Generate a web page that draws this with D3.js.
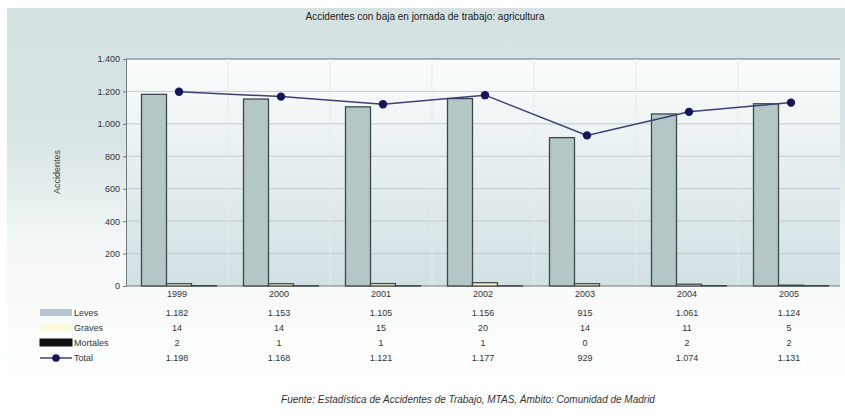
<!DOCTYPE html>
<html>
<head>
<meta charset="utf-8">
<script src="https://cdn.jsdelivr.net/npm/d3@7"></script>
<style>
  html, body { margin: 0; padding: 0; background: #fff; }
  svg { display: block; font-family: "Liberation Sans", Arial, sans-serif; }
</style>
</head>
<body>
<svg id="chart" width="845" height="420"></svg>
<script>
// Accidentes con baja en jornada de trabajo: agricultura (Comunidad de Madrid)
const years    = ["1999", "2000", "2001", "2002", "2003", "2004", "2005"];
const leves    = [1182, 1153, 1105, 1156, 915, 1061, 1124];
const graves   = [14, 14, 15, 20, 14, 11, 5];
const mortales = [2, 1, 1, 1, 0, 2, 2];
const total    = [1198, 1168, 1121, 1177, 929, 1074, 1131];
const yTicks   = [0, 200, 400, 600, 800, 1000, 1200, 1400];
const seriesNames = ["Leves", "Graves", "Mortales", "Total"];

const svg = d3.select("#chart");
const defs = svg.append("defs");

const fmt = v => {
  const s = String(v);
  return s.length > 3 ? s.slice(0, s.length - 3) + "." + s.slice(-3) : s;
};

// outer background gradient
const bg = defs.append("linearGradient").attr("id", "bg").attr("x1", 0).attr("y1", 0).attr("x2", 0).attr("y2", 1);
bg.append("stop").attr("offset", "0%").attr("stop-color", "#d3e1e1");
bg.append("stop").attr("offset", "35%").attr("stop-color", "#d9e5e5");
bg.append("stop").attr("offset", "65%").attr("stop-color", "#f6f9f9");
bg.append("stop").attr("offset", "100%").attr("stop-color", "#ffffff");
svg.append("rect").attr("x", 7).attr("y", 8).attr("width", 838).attr("height", 380).attr("fill", "url(#bg)");

// plot area gradient
const pg = defs.append("linearGradient").attr("id", "pg").attr("x1", 0).attr("y1", 0).attr("x2", 0).attr("y2", 1);
pg.append("stop").attr("offset", "0%").attr("stop-color", "#fbfdfd");
pg.append("stop").attr("offset", "45%").attr("stop-color", "#e7eff0");
pg.append("stop").attr("offset", "100%").attr("stop-color", "#d2e0e4");

const m = { left: 126, right: 840, top: 59, bottom: 286 };

const x = d3.scaleBand().domain(years).range([m.left, m.right]).paddingInner(0).paddingOuter(0);
const y = d3.scaleLinear().domain([0, 1400]).range([m.bottom, m.top]);

const groupW = 75;
const barSeries = ["leves", "graves", "mortales"];
const xs = d3.scaleBand().domain(barSeries).range([0, groupW]);
const groupStart = yr => x(yr) + x.bandwidth() / 2 - groupW / 2 + 2;

svg.append("rect").attr("x", m.left).attr("y", m.top)
  .attr("width", m.right - m.left).attr("height", m.bottom - m.top)
  .attr("fill", "url(#pg)");

// grid lines
svg.append("g").selectAll("line").data(yTicks.filter(t => t > 0)).join("line")
  .attr("x1", m.left).attr("x2", m.right)
  .attr("y1", d => y(d)).attr("y2", d => y(d))
  .attr("stroke", d => d === 1400 ? "#8c9a9a" : "#c3cccc").attr("stroke-width", d => d === 1400 ? 1.5 : 1);

svg.append("g").selectAll("line").data(years.slice(1)).join("line")
  .attr("x1", d => x(d)).attr("x2", d => x(d))
  .attr("y1", m.top).attr("y2", m.bottom)
  .attr("stroke", "#e4ecec").attr("stroke-width", 1);

// y axis
const yAxis = svg.append("g").attr("transform", `translate(${m.left},0)`)
  .call(d3.axisLeft(y).tickValues(yTicks).tickFormat(fmt).tickSize(3));
yAxis.select(".domain").attr("stroke", "#707a7a");
yAxis.selectAll(".tick line").attr("stroke", "#707a7a");
yAxis.selectAll("text").attr("font-size", 9).attr("fill", "#333").attr("x", -6);

svg.append("text").attr("transform", "translate(60,172) rotate(-90)")
  .attr("text-anchor", "middle").attr("font-size", 9).attr("fill", "#444").text("Accidentes");

// x axis line
svg.append("line").attr("x1", m.left).attr("x2", m.right).attr("y1", m.bottom).attr("y2", m.bottom)
  .attr("stroke", "#707a7a").attr("stroke-width", 1);

// bars
const barData = years.map((yr, i) => ({ yr, leves: leves[i], graves: graves[i], mortales: mortales[i] }));
const fills = { leves: "#b5c6c6", graves: "#fbfbdc", mortales: "#111111" };
const g = svg.append("g");
barData.forEach(d => {
  barSeries.forEach(s => {
    g.append("rect")
      .attr("x", groupStart(d.yr) + xs(s))
      .attr("y", y(d[s]))
      .attr("width", xs.bandwidth())
      .attr("height", Math.max(0, y(0) - y(d[s])))
      .attr("fill", fills[s])
      .attr("stroke", "#3c4848").attr("stroke-width", 1.3);
  });
});

// total line
const cx = (yr) => x(yr) + x.bandwidth() / 2 + 2;
const line = d3.line().x((d, i) => cx(years[i])).y(d => y(d));
svg.append("path").datum(total).attr("d", line)
  .attr("fill", "none").attr("stroke", "#3d3f78").attr("stroke-width", 1.5);
svg.append("g").selectAll("circle").data(total).join("circle")
  .attr("cx", (d, i) => cx(years[i])).attr("cy", d => y(d)).attr("r", 4.2)
  .attr("fill", "#15155a");

// title
svg.append("text").attr("x", 425).attr("y", 20).attr("text-anchor", "middle")
  .attr("font-size", 10).attr("fill", "#222")
  .text("Accidentes con baja en jornada de trabajo: agricultura");

// data table
const rowY = [313, 328, 343, 358];
const tableVals = [leves, graves, mortales, total];
svg.append("g").selectAll("text").data(years).join("text")
  .attr("x", d => x(d) + x.bandwidth() / 2).attr("y", 297)
  .attr("text-anchor", "middle").attr("font-size", 9).attr("fill", "#333").text(d => d);

tableVals.forEach((vals, r) => {
  svg.append("g").selectAll("text").data(vals).join("text")
    .attr("x", (d, i) => x(years[i]) + x.bandwidth() / 2).attr("y", rowY[r] + 3)
    .attr("text-anchor", "middle").attr("font-size", 9).attr("fill", "#333").text(d => fmt(d));
});

// legend keys
const leg = svg.append("g");
[["leves", 0], ["graves", 1], ["mortales", 2]].forEach(([s, r]) => {
  leg.append("rect").attr("x", 40).attr("y", rowY[r] - 4).attr("width", 32).attr("height", 7)
    .attr("fill", s === "leves" ? "#b8c4d0" : fills[s]).attr("stroke", s === "mortales" ? "#111" : "none");
});
leg.append("line").attr("x1", 40).attr("x2", 72).attr("y1", rowY[3]).attr("y2", rowY[3])
  .attr("stroke", "#3d3f78").attr("stroke-width", 1.5);
leg.append("circle").attr("cx", 56).attr("cy", rowY[3]).attr("r", 3.8).attr("fill", "#15155a");
leg.selectAll("text").data(seriesNames).join("text")
  .attr("x", 74).attr("y", (d, i) => rowY[i] + 3)
  .attr("font-size", 9).attr("fill", "#333").text(d => d);

// source
svg.append("text").attr("x", 468).attr("y", 403).attr("text-anchor", "middle")
  .attr("font-size", 10).attr("font-style", "italic").attr("fill", "#333")
  .text("Fuente: Estadística de Accidentes de Trabajo, MTAS, Ámbito: Comunidad de Madrid");
</script>
</body>
</html>
